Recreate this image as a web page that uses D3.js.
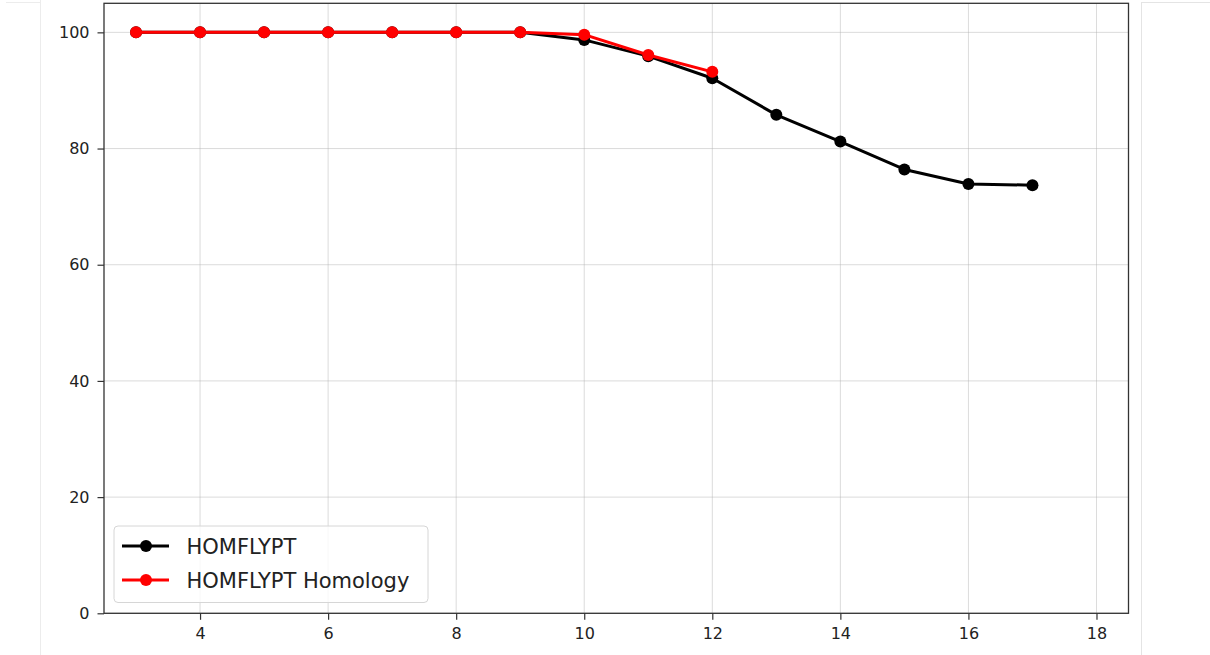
<!DOCTYPE html>
<html>
<head>
<meta charset="utf-8">
<script src="https://cdn.jsdelivr.net/npm/d3@7"></script>
<style>
  html, body { margin: 0; padding: 0; background: #fff; }
  svg { display: block; }
</style>
</head>
<body>
<svg id="chart" width="1210" height="655"></svg>
<script>
const xsBlack = [3, 4, 5, 6, 7, 8, 9, 10, 11, 12, 13, 14, 15, 16, 17];
const homflypt = [100, 100, 100, 100, 100, 100, 100, 98.7, 95.9, 92.1, 85.8, 81.2, 76.4, 73.9, 73.7];
const xsRed = [3, 4, 5, 6, 7, 8, 9, 10, 11, 12];
const homology = [100, 100, 100, 100, 100, 100, 100, 99.6, 96.1, 93.2];
const xTicks = [4, 6, 8, 10, 12, 14, 16, 18];
const yTicks = [0, 20, 40, 60, 80, 100];
const seriesNames = ["HOMFLYPT", "HOMFLYPT Homology"];
const seriesColors = ["#000000", "#ff0000"];

const svg = d3.select("#chart");
const L = 104, R = 1128.5, T = 3.3, B = 613.3;

// notebook frame lines
svg.append("line").attr("x1", 40.5).attr("x2", 40.5).attr("y1", 0).attr("y2", 655)
  .attr("stroke", "#ececec").attr("stroke-width", 1);
svg.append("line").attr("x1", 6).attr("x2", 40.5).attr("y1", 2.5).attr("y2", 2.5)
  .attr("stroke", "#ececec").attr("stroke-width", 1);
svg.append("line").attr("x1", 1141.5).attr("x2", 1141.5).attr("y1", 2).attr("y2", 655)
  .attr("stroke", "#e4e4e4").attr("stroke-width", 1);
svg.append("line").attr("x1", 1141.5).attr("x2", 1210).attr("y1", 2.5).attr("y2", 2.5)
  .attr("stroke", "#e4e4e4").attr("stroke-width", 1);

const x = d3.scaleLinear().domain([2.5, 18.5]).range([L, R]);
const y = d3.scaleLinear().domain([0, 105]).range([B, T]);

const font = "DejaVu Sans, sans-serif";

// grid
const grid = svg.append("g");
grid.selectAll("line.gx").data(xTicks).join("line")
  .attr("x1", d => x(d)).attr("x2", d => x(d)).attr("y1", T).attr("y2", B)
  .attr("stroke", "#b0b0b0").attr("stroke-opacity", 0.45).attr("stroke-width", 1);
grid.selectAll("line.gy").data(yTicks).join("line")
  .attr("x1", L).attr("x2", R).attr("y1", d => y(d)).attr("y2", d => y(d))
  .attr("stroke", "#b0b0b0").attr("stroke-opacity", 0.45).attr("stroke-width", 1);

// axes
const xAxis = svg.append("g").attr("transform", `translate(0,${B})`)
  .call(d3.axisBottom(x).tickValues(xTicks).tickSize(6.5).tickPadding(8).tickFormat(d3.format("d")));
const yAxis = svg.append("g").attr("transform", `translate(${L},0)`)
  .call(d3.axisLeft(y).tickValues(yTicks).tickSize(6.5).tickPadding(8).tickFormat(d3.format("d")));
[xAxis, yAxis].forEach(a => {
  a.select(".domain").remove();
  a.selectAll(".tick line").attr("stroke", "#333").attr("stroke-width", 1.2);
  a.selectAll(".tick text").attr("font-family", font).attr("font-size", 16).attr("fill", "#222");
});

// spines
svg.append("rect").attr("x", L).attr("y", T).attr("width", R - L).attr("height", B - T)
  .attr("fill", "none").attr("stroke", "#333").attr("stroke-width", 1.3);

const line = d3.line().x(d => x(d[0])).y(d => y(d[1]));
const series = [
  { xs: xsBlack, ys: homflypt, color: seriesColors[0] },
  { xs: xsRed, ys: homology, color: seriesColors[1] }
];
series.forEach(s => {
  const pts = s.xs.map((v, i) => [v, s.ys[i]]);
  svg.append("path").datum(pts).attr("d", line)
    .attr("fill", "none").attr("stroke", s.color).attr("stroke-width", 3)
    .attr("stroke-linejoin", "round");
  svg.append("g").selectAll("circle").data(pts).join("circle")
    .attr("cx", d => x(d[0])).attr("cy", d => y(d[1])).attr("r", 6)
    .attr("fill", s.color);
});

// legend
const lg = svg.append("g");
lg.append("rect").attr("x", 114).attr("y", 526).attr("width", 314).attr("height", 76.5)
  .attr("rx", 4).attr("fill", "#fff").attr("fill-opacity", 0.8)
  .attr("stroke", "#d6d6d6").attr("stroke-width", 1);
seriesNames.forEach((name, i) => {
  const yy = 546 + i * 34;
  lg.append("line").attr("x1", 122).attr("x2", 169).attr("y1", yy).attr("y2", yy)
    .attr("stroke", seriesColors[i]).attr("stroke-width", 3);
  lg.append("circle").attr("cx", 146).attr("cy", yy).attr("r", 6).attr("fill", seriesColors[i]);
  lg.append("text").attr("x", 186.5).attr("y", yy).attr("dy", "0.36em")
    .attr("font-family", font).attr("font-size", 21).attr("fill", "#222").text(name);
});
</script>
</body>
</html>
